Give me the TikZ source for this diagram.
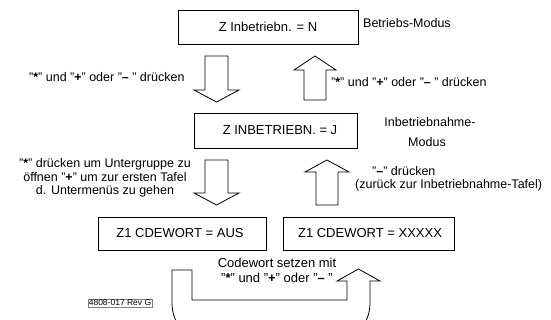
\documentclass[tikz,border=0pt]{standalone}
\usepackage{fontspec}
\setmainfont{Liberation Sans}
\newcommand{\kast}{{\bfseries *}}
\newcommand{\kpl}{{\bfseries +}}
\newcommand{\kmi}{{\bfseries --}}
\begin{document}
\begin{tikzpicture}[x=1pt,y=-1pt,
  boxn/.style={draw, line width=0.8pt},
  btxt/.style={font=\fontsize{13}{15}\selectfont, inner sep=0pt},
  lbl/.style={font=\fontsize{12.5}{13.5}\selectfont, inner sep=0pt},
  blockarrow/.style={draw, line width=0.8pt, fill=white, line join=miter}]
\useasboundingbox (0,0) rectangle (551,320);
% boxes
\draw[boxn] (178,10) rectangle (358,44);
\node[btxt] (top) at (268,27) {Z Inbetriebn. = N};
\draw[boxn] (194,113) rectangle (357,148);
\node[btxt] (mid) at (280,130.5) {Z INBETRIEBN. = J};
\draw[boxn] (98,217) rectangle (266,250);
\node[btxt] (aus) at (180,233.5) {Z1 CDEWORT = AUS};
\draw[boxn] (283,217) rectangle (454,250);
\node[btxt] (xxx) at (370,233.5) {Z1 CDEWORT = XXXXX};
% side labels
\node[lbl, anchor=west] (bm) at (363,23) {Betriebs-Modus};
\node[lbl] (ibm1) at (430,122) {Inbetriebnahme-};
\node[lbl] (ibm2) at (427,142) {Modus};
% arrow 1 down
\draw[blockarrow] (205,56) -- (228,56) -- (228,90) -- (239,90) -- (216.5,102) -- (194,90) -- (205,90) -- cycle;
\node[lbl, anchor=west] (l1) at (29,77) {"\kast" und "\kpl" oder "\kmi{} " drücken};
% arrow 1 up
\draw[blockarrow] (304,100) -- (326,100) -- (326,70) -- (336,70) -- (315,56) -- (294,70) -- (304,70) -- cycle;
\node[lbl, anchor=west] (r1) at (331,82) {"\kast" und "\kpl" oder "\kmi{} " drücken};
% arrow 2 down
\draw[blockarrow] (205,160) -- (228,160) -- (228,193) -- (239,193) -- (216.5,205) -- (194,193) -- (205,193) -- cycle;
\node[lbl, align=center] (l2) at (105,178) {"\kast" drücken um Untergruppe zu\\öffnen "\kpl" um zur ersten Tafel\\d. Untermenüs zu gehen};
% arrow 2 up
\draw[blockarrow] (316,205) -- (338,205) -- (338,172) -- (349,172) -- (327,160) -- (305,172) -- (316,172) -- cycle;
\node[lbl, anchor=west] (r2a) at (372,171) {"\kmi" drücken};
\node[lbl, anchor=west] (r2b) at (355,185.5) {(zurück zur Inbetriebnahme-Tafel)};
% bottom text
\node[lbl, align=center, font=\fontsize{13}{15}\selectfont] (cw) at (277,270.5) {Codewort setzen mit\\"\kast" und "\kpl" oder "\kmi{} "};
% U arrow
\begin{scope}
\clip (0,0) rectangle (551,320);
\draw[blockarrow] (172,270) -- (192,270) -- (192,300) -- (347,300) -- (347,281) -- (337,281) -- (358.5,269) -- (380,281) -- (370,281) -- (370,302)
  .. controls (370,320) and (362,332) .. (347,332) -- (195,332) .. controls (180,332) and (172,320) .. (172,302) -- cycle;
\end{scope}
% ref label
\node[draw=gray, line width=0.5pt, inner sep=1pt, font=\fontsize{8.5}{9}\selectfont] (ref) at (120,303) {4808-017 Rev G};
\end{tikzpicture}
\end{document}
